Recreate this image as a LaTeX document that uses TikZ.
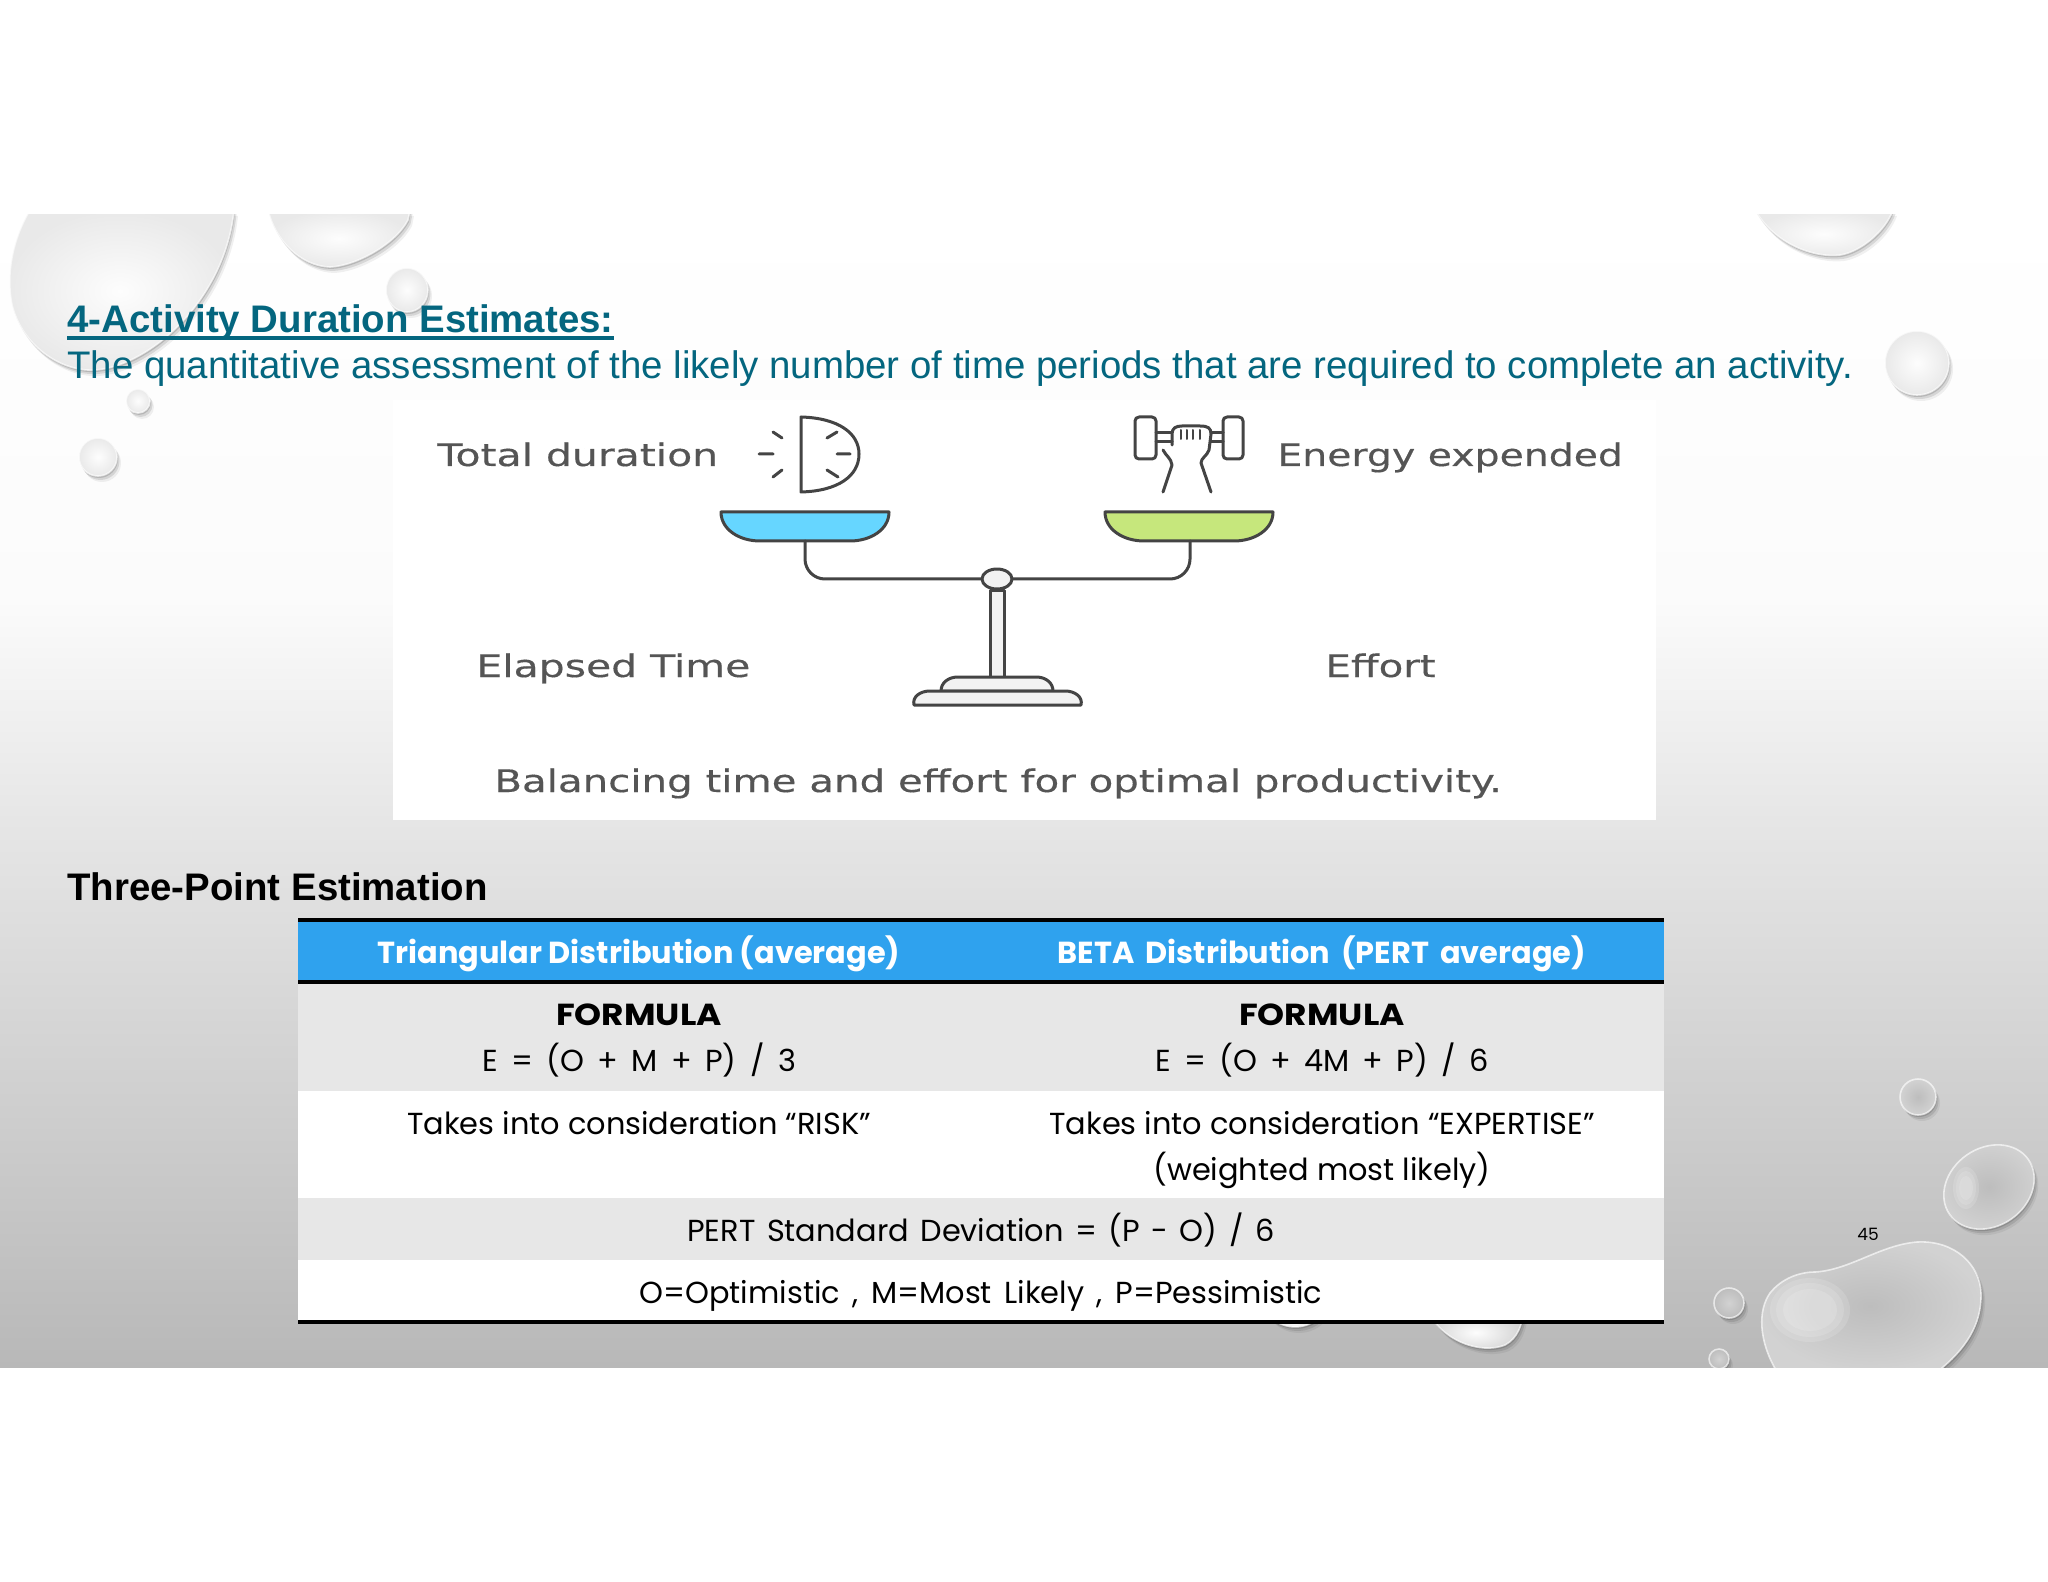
\documentclass[tikz,border=0pt]{standalone}
\usepackage{fontspec}
\setmainfont{Liberation Sans}
\newfontfamily\tablefont{Poppins}
\newfontfamily\panelfont[FakeBold=0.35]{DejaVu Sans}
\usetikzlibrary{calc}
\definecolor{bgA}{HTML}{B8B8B8}
\definecolor{bgB}{HTML}{CFCFCF}
\definecolor{bgC}{HTML}{E6E6E6}
\definecolor{bgD}{HTML}{FBFBFB}
\definecolor{titleteal}{HTML}{04667F}
\definecolor{hdr}{HTML}{2FA2EE}
\definecolor{rowgray}{HTML}{E7E7E7}
\definecolor{ink}{HTML}{444444}
\definecolor{panelink}{HTML}{555555}
\definecolor{panblue}{HTML}{66D6FF}
\definecolor{pangreen}{HTML}{C6E77C}
\definecolor{paleA}{HTML}{FDFDFD}
\definecolor{paleB}{HTML}{E9E9E9}
\definecolor{midA}{HTML}{D2D2D2}
\definecolor{midB}{HTML}{BDBDBD}
\pgfdeclareverticalshading{slidebg}{100bp}{color(0bp)=(bgA); color(25bp)=(bgA); color(36.6bp)=(bgB); color(48.7bp)=(bgC); color(58.3bp)=(bgD); color(75bp)=(white); color(100bp)=(white)}
\newcommand{\waterdrop}[3]{%
  \fill[black,opacity=.06,shift={(4,6)}] #3;
  \fill[black,opacity=.10,shift={(2.5,4)}] #3;
  \fill[black,opacity=.14,shift={(1,2)}] #3;
  \shade[inner color=#1,outer color=#2] #3;
  \draw[white,opacity=.65,line width=.8pt] #3;
}
\tikzset{
  x=0.5pt,y=-0.5pt,
  tabletext/.style={font=\tablefont\fontsize{15.2}{18}\selectfont,text=black,inner sep=0pt,anchor=base},
  tablehead/.style={tabletext,text=white,font=\tablefont\fontsize{15.2}{18}\selectfont\bfseries},
  tablebold/.style={tabletext,font=\tablefont\fontsize{15.2}{18}\selectfont\bfseries},
  paneltext/.style={font=\panelfont\fontsize{15.5}{18}\selectfont,text=panelink,inner sep=0pt,anchor=base west},
  iconline/.style={draw=ink,line width=1.5pt,line cap=round,line join=round},
  softfill/.style={iconline,fill=#1},
  softfill/.default=white,
  glow/.style={white,opacity=.14}
}
\newcommand{\wide}[2][1.3]{\scalebox{#1}[1]{#2}}
\begin{document}
\begin{tikzpicture}
\useasboundingbox (0,0) rectangle (2048,1582);
\fill[white] (0,0) rectangle (2048,1582);
\shade[shading=slidebg] (0,215) rectangle (2048,1367);
\begin{scope}
\clip (0,215) rectangle (2048,1367);
% upper left drops
\waterdrop{paleA}{paleB}{(30,210) .. controls (12,240) and (6,275) .. (12,305) .. controls (22,345) and (60,372) .. (95,370) .. controls (150,366) and (225,300) .. (234,210) -- cycle}
\waterdrop{paleA}{paleB}{(268,210) .. controls (275,240) and (300,266) .. (330,267) .. controls (355,266) and (395,245) .. (408,220) -- (410,210) -- cycle}
\waterdrop{paleA}{paleB}{(407,290) ellipse (21 and 22)}
\waterdrop{paleA}{paleB}{(138,401) circle (12)}
\waterdrop{paleA}{paleB}{(98,457) circle (19)}
% upper right drops
\waterdrop{paleA}{paleB}{(1755,210) .. controls (1775,245) and (1815,258) .. (1840,255) .. controls (1860,252) and (1885,232) .. (1893,210) -- cycle}
\waterdrop{paleA}{paleB}{(1917,363) circle (32)}
% lower right drops
\waterdrop{midB}{midA}{(1918,1097) ellipse (18 and 18)}
\waterdrop{midB}{midA}{[rotate around={35:(1989,1187)}] (1989,1187) ellipse (48 and 39)}
\waterdrop{midA}{midB}{(1729,1303) circle (15)}
\waterdrop{midA}{midB}{(1719,1359) circle (10)}
\waterdrop{midB}{midA}{(1777,1372) .. controls (1758,1340) and (1758,1310) .. (1770,1293) .. controls (1782,1278) and (1800,1272) .. (1815,1272) .. controls (1850,1270) and (1880,1245) .. (1917,1242) .. controls (1955,1240) and (1980,1265) .. (1981,1293) .. controls (1982,1325) and (1965,1350) .. (1937,1372) -- cycle}
\fill[glow] (1810,1310) ellipse (40 and 32);
\fill[glow] (1810,1310) ellipse (34 and 27);
\fill[glow] (1810,1310) ellipse (27 and 21);
\fill[glow] (1966,1188) ellipse (13 and 21);
\fill[glow] (1966,1188) ellipse (10 and 17);
\fill[glow] (1966,1188) ellipse (7 and 12);
% drops under the table
\waterdrop{paleA}{midA}{(1428,1310) .. controls (1440,1340) and (1480,1355) .. (1505,1345) .. controls (1518,1338) and (1522,1325) .. (1524,1310) -- cycle}
\waterdrop{paleA}{midA}{(1265,1310) .. controls (1275,1330) and (1310,1335) .. (1325,1310) -- cycle}
\end{scope}
% titles
\node[inner sep=0pt,anchor=base west,text=titleteal,font=\fontsize{19.2}{22}\selectfont\bfseries] (title) at (67,333) {4-Activity Duration Estimates:};
\draw[titleteal,line width=1.7pt] ($(title.base west)+(0,5)$) -- ($(title.base east)+(0,5)$);
\node[inner sep=0pt,anchor=base west,text=titleteal,font=\fontsize{19.2}{22}\selectfont] (subtitle) at (67,379) {The quantitative assessment of the likely number of time periods that are required to complete an activity.};
% image panel
\fill[white] (393,400) rectangle (1656,820);
\node[paneltext] (totald) at (437,466) {\wide[1.32]{Total duration}};
\node[paneltext] (energy) at (1277,466) {\wide[1.27]{Energy expended}};
\node[paneltext] (elapsed) at (476,677) {\wide[1.32]{Elapsed Time}};
\node[paneltext] (effort) at (1325,677) {\wide{Effort}};
\node[paneltext] (balance) at (494,792) {\wide{Balancing time and effort for optimal productivity.}};
% clock
\draw[iconline] (801,417) -- (801,492) .. controls (838,491) and (859,476) .. (859,454) .. controls (859,433) and (838,418) .. (801,417) -- cycle;
\draw[iconline] (827,438) -- (837,432) (837,454) -- (850,454) (827,470) -- (838,477);
\draw[iconline] (782,438) -- (773,432) (773,454) -- (759,454) (782,470) -- (773,477);
% dumbbell and hand
\draw[iconline,rounded corners=2pt] (1135,417) rectangle (1156,459);
\draw[iconline,rounded corners=2pt] (1223,417) rectangle (1243,459);
\draw[iconline] (1156,433) -- (1172,433) (1156,442) -- (1172,442) (1211,433) -- (1223,433) (1211,442) -- (1223,442);
\draw[iconline] (1163,450) .. controls (1166,456) and (1171,458) .. (1172,465) -- (1163,492);
\draw[iconline] (1172,445) -- (1172,434) .. controls (1172,428) and (1176,426) .. (1182,426) -- (1200,426) .. controls (1208,426) and (1211,428) .. (1211,434) -- (1209,450) .. controls (1207,456) and (1201,458) .. (1201,463) -- (1211,492);
\draw[iconline,line width=1pt] (1181,430) -- (1181,439) (1187,430) -- (1187,439) (1193,430) -- (1193,439) (1200,430) -- (1200,439);
% balance
\draw[softfill=panblue] (721,512) -- (889,512) .. controls (889,530) and (870,541) .. (850,541) -- (760,541) .. controls (740,541) and (721,530) .. (721,512) -- cycle;
\draw[softfill=pangreen] (1105,512) -- (1273,512) .. controls (1273,530) and (1254,541) .. (1234,541) -- (1144,541) .. controls (1124,541) and (1105,530) .. (1105,512) -- cycle;
\draw[iconline,rounded corners=10pt] (805,541) -- (805,579) -- (1190,579) -- (1190,541);
\draw[softfill=white!95!black] (990,590) rectangle (1004,677);
\draw[softfill=white!95!black] (997,579) ellipse (15 and 10);
\draw[softfill=white!95!black] (941,691) .. controls (941,683) and (948,677) .. (958,677) -- (1036,677) .. controls (1046,677) and (1053,683) .. (1053,691) -- cycle;
\draw[softfill=white!95!black] (914,705) .. controls (912,697) and (920,691) .. (930,691) -- (1065,691) .. controls (1075,691) and (1083,697) .. (1081,705) -- cycle;
% three-point heading
\node[inner sep=0pt,anchor=base west,text=black,font=\fontsize{19.2}{22}\selectfont\bfseries] (tpe) at (67,900) {Three-Point Estimation};
% table
\fill[hdr] (298,920) rectangle (1664,982);
\fill[rowgray] (298,982) rectangle (1664,1091);
\fill[white] (298,1091) rectangle (1664,1198);
\fill[rowgray] (298,1198) rectangle (1664,1260);
\fill[white] (298,1260) rectangle (1664,1322);
\draw[black,line width=2pt] (298,920) -- (1664,920);
\draw[black,line width=2pt] (298,982) -- (1664,982);
\draw[black,line width=2pt] (298,1322) -- (1664,1322);
\node[tablehead] (h1) at (639,963) {Triangular Distribution (average)};
\node[tablehead] (h2) at (1322,963) {\spaceskip=5.5pt BETA Distribution (PERT average)};
\node[tablebold] (f1) at (639,1025) {\scalebox{1.13}[1]{FORMULA}};
\node[tablebold] (f2) at (1322,1025) {\scalebox{1.13}[1]{FORMULA}};
\node[tabletext] (e1) at (639,1071) {\spaceskip=6.7pt E = (O + M + P) / 3};
\node[tabletext] (e2) at (1322,1071) {\spaceskip=6.6pt E = (O + 4M + P) / 6};
\node[tabletext] (r1) at (639,1134) {Takes into consideration “RISK”};
\node[tabletext] (r2) at (1322,1134) {Takes into consideration “EXPERTISE”};
\node[tabletext] (r3) at (1322,1180) {(weighted most likely)};
\node[tabletext] (sd) at (981,1241) {\spaceskip=5.8pt PERT Standard Deviation = (P - O) / 6};
\node[tabletext] (key) at (981,1303) {\spaceskip=6.3pt O=Optimistic , M=Most Likely , P=Pessimistic};
\node[font=\tablefont\fontsize{8.5}{10}\selectfont,inner sep=0pt,anchor=base] (page) at (1868,1240) {45};
\end{tikzpicture}
\end{document}
